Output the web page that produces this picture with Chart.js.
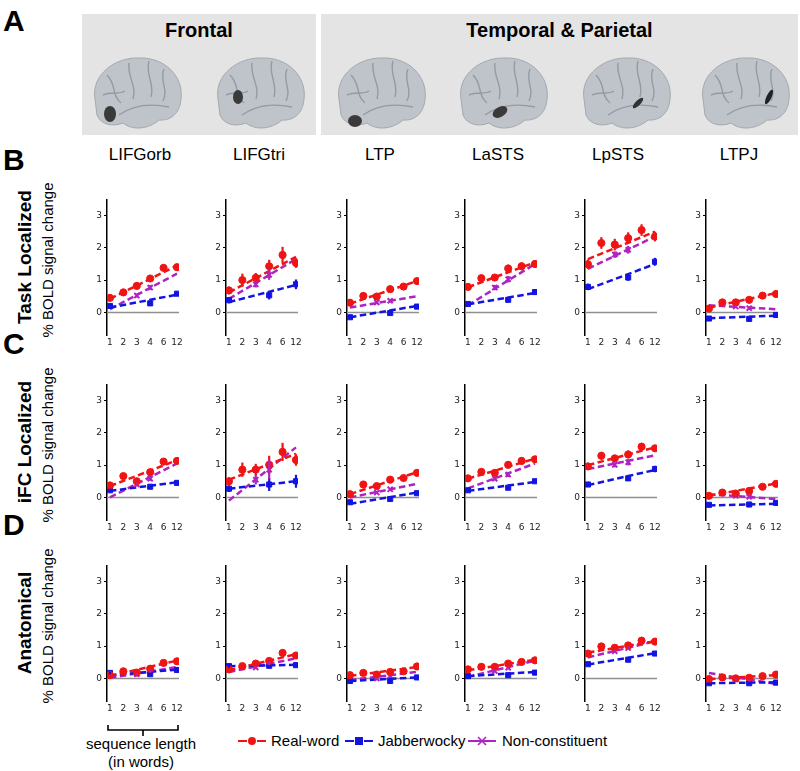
<!DOCTYPE html>
<html lang="en">
<head>
<meta charset="UTF-8">
<title>Sequence length effects by region</title>
<script src="https://cdn.jsdelivr.net/npm/chart.js@4.4.1/dist/chart.umd.min.js"></script>
<style>
    body { margin: 0; background: #fff; font-family: "Liberation Sans", Arial, sans-serif; }
    #fig { position: relative; width: 800px; height: 771px; overflow: hidden; }
    .abs { position: absolute; }
    .letter { font-weight: bold; font-size: 30px; line-height: 30px; }
    .box { background: #e4e4e4; }
    .boxTitle { font-weight: bold; font-size: 20px; text-align: center; }
    .region { font-size: 17px; text-align: center; width: 100px; }
    .rot { transform: rotate(-90deg); text-align: center; white-space: nowrap; }
    .lgItem { display: flex; align-items: center; font-size: 15px; white-space: nowrap; }
    canvas { position: absolute; }
</style>
</head>
<body>
<div id="fig">
    <div class="abs letter" style="left:3px;top:6px;">A</div>
    <div class="abs box" style="left:82px;top:14px;width:234px;height:121px;"></div>
    <div class="abs box" style="left:321px;top:14px;width:477px;height:121px;"></div>
    <div class="abs boxTitle" style="left:82px;top:19px;width:234px;">Frontal</div>
    <div class="abs boxTitle" style="left:321px;top:19px;width:477px;">Temporal &amp; Parietal</div>
</div>

<script>
    // sequence lengths (x categories) and regions
    const lengths = ['1', '2', '3', '4', '6', '12'];
    const regions = ['LIFGorb', 'LIFGtri', 'LTP', 'LaSTS', 'LpSTS', 'LTPJ'];
    const jabIdx = [0, 3, 5];   // jabberwocky conditions: 1, 4, 12
    const noncIdx = [2, 3];     // non-constituent conditions: 3, 4

    // B: Task localized
    const taskReal = [
        [0.45, 0.62, 0.82, 1.05, 1.38, 1.40],
        [0.68, 1.00, 1.07, 1.43, 1.78, 1.53],
        [0.30, 0.51, 0.49, 0.72, 0.80, 0.97],
        [0.79, 1.06, 1.08, 1.36, 1.43, 1.50],
        [1.49, 2.15, 2.10, 2.30, 2.55, 2.35],
        [0.12, 0.31, 0.31, 0.39, 0.52, 0.57]];
    const taskRealErr = [
        [0.08, 0.10, 0.10, 0.10, 0.10, 0.08],
        [0.12, 0.20, 0.15, 0.20, 0.25, 0.15],
        [0.06, 0.06, 0.06, 0.08, 0.08, 0.07],
        [0.08, 0.10, 0.08, 0.12, 0.12, 0.10],
        [0.15, 0.18, 0.18, 0.18, 0.18, 0.15],
        [0.05, 0.05, 0.06, 0.05, 0.06, 0.06]];
    const taskRealFit = [[0.42, 1.45], [0.62, 1.72], [0.27, 0.97], [0.78, 1.55], [1.65, 2.50], [0.15, 0.60]];
    const taskJab = [[0.20, 0.28, 0.58], [0.38, 0.53, 0.87], [-0.15, -0.02, 0.18], [0.26, 0.39, 0.63], [0.79, 1.08, 1.57], [-0.19, -0.20, -0.08]];
    const taskJabErr = [[0.06, 0.07, 0.07], [0.10, 0.13, 0.15], [0.05, 0.05, 0.05], [0.06, 0.06, 0.07], [0.10, 0.10, 0.12], [0.04, 0.05, 0.04]];
    const taskJabFit = [[0.15, 0.55], [0.32, 0.85], [-0.15, 0.20], [0.25, 0.60], [0.72, 1.50], [-0.18, -0.10]];
    const taskNonc = [[0.52, 0.77], [0.87, 1.16], [0.31, 0.36], [0.77, 1.03], [1.79, 1.94], [0.18, 0.13]];
    const taskNoncErr = [[0.06, 0.08], [0.10, 0.15], [0.05, 0.05], [0.08, 0.10], [0.10, 0.12], [0.04, 0.05]];
    const taskNoncFit = [[0.10, 1.20], [0.42, 1.65], [0.15, 0.50], [0.22, 1.50], [1.35, 2.35], [0.22, 0.10]];

    // C: iFC localized
    const ifcReal = [
        [0.37, 0.66, 0.50, 0.78, 1.11, 1.13],
        [0.50, 0.86, 0.86, 1.01, 1.41, 1.16],
        [0.10, 0.40, 0.35, 0.55, 0.60, 0.76],
        [0.59, 0.79, 0.76, 1.01, 1.13, 1.18],
        [0.96, 1.29, 1.21, 1.33, 1.57, 1.52],
        [0.05, 0.15, 0.12, 0.20, 0.33, 0.42]];
    const ifcRealErr = [
        [0.06, 0.08, 0.08, 0.08, 0.07, 0.07],
        [0.12, 0.22, 0.18, 0.28, 0.28, 0.18],
        [0.05, 0.06, 0.06, 0.06, 0.05, 0.05],
        [0.06, 0.08, 0.08, 0.10, 0.10, 0.10],
        [0.08, 0.12, 0.10, 0.12, 0.12, 0.10],
        [0.04, 0.05, 0.05, 0.05, 0.05, 0.05]];
    const ifcRealFit = [[0.35, 1.15], [0.55, 1.35], [0.10, 0.78], [0.58, 1.20], [1.00, 1.55], [0.05, 0.43]];
    const ifcJab = [[0.22, 0.33, 0.45], [0.27, 0.40, 0.50], [-0.15, -0.05, 0.13], [0.22, 0.30, 0.50], [0.40, 0.59, 0.88], [-0.23, -0.22, -0.17]];
    const ifcJabErr = [[0.05, 0.05, 0.06], [0.10, 0.20, 0.20], [0.04, 0.04, 0.05], [0.05, 0.05, 0.07], [0.08, 0.07, 0.10], [0.04, 0.04, 0.04]];
    const ifcJabFit = [[0.20, 0.47], [0.27, 0.50], [-0.20, 0.15], [0.20, 0.48], [0.38, 0.85], [-0.25, -0.20]];
    const ifcNonc = [[0.40, 0.58], [0.55, 0.86], [0.15, 0.25], [0.58, 0.71], [1.01, 1.09], [0.05, 0.02]];
    const ifcNoncErr = [[0.06, 0.07], [0.15, 0.30], [0.04, 0.04], [0.06, 0.08], [0.08, 0.10], [0.03, 0.04]];
    const ifcNoncFit = [[0.00, 1.05], [-0.10, 1.55], [0.00, 0.42], [0.28, 1.05], [0.88, 1.30], [0.10, -0.05]];

    // D: Anatomical
    const anatReal = [
        [0.10, 0.22, 0.18, 0.30, 0.48, 0.53],
        [0.28, 0.38, 0.46, 0.54, 0.79, 0.71],
        [0.10, 0.17, 0.12, 0.20, 0.22, 0.37],
        [0.28, 0.36, 0.36, 0.46, 0.51, 0.56],
        [0.77, 0.99, 0.95, 1.02, 1.17, 1.14],
        [-0.02, 0.03, 0.00, 0.02, 0.07, 0.12]];
    const anatRealErr = [
        [0.04, 0.05, 0.05, 0.05, 0.05, 0.05],
        [0.05, 0.06, 0.06, 0.06, 0.08, 0.06],
        [0.04, 0.04, 0.04, 0.04, 0.04, 0.05],
        [0.04, 0.05, 0.05, 0.05, 0.05, 0.05],
        [0.06, 0.07, 0.07, 0.07, 0.07, 0.06],
        [0.04, 0.04, 0.04, 0.04, 0.04, 0.04]];
    const anatRealFit = [[0.08, 0.55], [0.25, 0.75], [0.08, 0.35], [0.25, 0.58], [0.80, 1.15], [-0.02, 0.10]];
    const anatJab = [[0.17, 0.13, 0.26], [0.38, 0.39, 0.41], [-0.08, -0.08, 0.03], [0.07, 0.10, 0.18], [0.44, 0.58, 0.77], [-0.15, -0.15, -0.13]];
    const anatJabErr = [[0.04, 0.04, 0.04], [0.05, 0.05, 0.05], [0.03, 0.03, 0.03], [0.03, 0.03, 0.04], [0.05, 0.05, 0.05], [0.03, 0.03, 0.03]];
    const anatJabFit = [[0.10, 0.27], [0.38, 0.42], [-0.08, 0.03], [0.07, 0.20], [0.43, 0.78], [-0.15, -0.12]];
    const anatNonc = [[0.13, 0.23], [0.34, 0.46], [0.00, 0.07], [0.23, 0.33], [0.84, 0.94], [-0.03, -0.05]];
    const anatNoncErr = [[0.04, 0.04], [0.04, 0.05], [0.03, 0.03], [0.04, 0.04], [0.05, 0.05], [0.03, 0.03]];
    const anatNoncFit = [[0.02, 0.35], [0.20, 0.62], [-0.05, 0.20], [0.05, 0.55], [0.65, 1.15], [0.17, -0.17]];

    const RED = 'rgb(240,20,20)', BLUE = 'rgb(20,20,225)', PURPLE = 'rgb(175,35,195)';

    const fig = document.getElementById('fig');
    const spines = [107, 226, 347, 465, 585, 706];
    const rows = [
        { letter: 'B', label: 'Task Localized', zero: 312, real: taskReal, realErr: taskRealErr, realFit: taskRealFit,
          jab: taskJab, jabErr: taskJabErr, jabFit: taskJabFit, nonc: taskNonc, noncErr: taskNoncErr, noncFit: taskNoncFit },
        { letter: 'C', label: 'iFC Localized', zero: 497, real: ifcReal, realErr: ifcRealErr, realFit: ifcRealFit,
          jab: ifcJab, jabErr: ifcJabErr, jabFit: ifcJabFit, nonc: ifcNonc, noncErr: ifcNoncErr, noncFit: ifcNoncFit },
        { letter: 'D', label: 'Anatomical', zero: 678, real: anatReal, realErr: anatRealErr, realFit: anatRealFit,
          jab: anatJab, jabErr: anatJabErr, jabFit: anatJabFit, nonc: anatNonc, noncErr: anatNoncErr, noncFit: anatNoncFit }
    ];

    function addDiv(html, cls, style) {
        const d = document.createElement('div');
        d.className = 'abs ' + cls;
        d.style.cssText = style;
        d.innerHTML = html;
        fig.appendChild(d);
        return d;
    }

    // brain pictures (decoration only)
    const brainX = [89, 212, 333, 455, 578, 697];
    const spots = [
        '<ellipse cx="21" cy="59" rx="6" ry="8" fill="#3a3a3a"/>',
        '<ellipse cx="26" cy="42" rx="5" ry="7" fill="#3a3a3a"/>',
        '<ellipse cx="22" cy="66" rx="7" ry="6" fill="#3a3a3a"/>',
        '<ellipse cx="45" cy="57" rx="8" ry="5" fill="#3a3a3a" transform="rotate(-30 45 57)"/>',
        '<ellipse cx="60" cy="48" rx="7" ry="2.5" fill="#333" transform="rotate(-45 60 48)"/>',
        '<ellipse cx="72" cy="42" rx="8" ry="2.5" fill="#222" transform="rotate(-65 72 42)"/>'
    ];
    brainX.forEach((bx, i) => {
        addDiv('<svg width="95" height="76" viewBox="0 0 95 76">' +
            '<path d="M6,44 C2,20 26,2 50,3 C76,2 95,22 92,44 C91,58 82,66 70,65 C60,74 44,76 34,68 C24,72 12,70 8,60 Z" fill="#bfc4ca" stroke="#a4a9af"/>' +
            '<path d="M18,20 C28,30 22,40 32,48 M40,8 C38,22 48,30 44,44 M60,6 C56,20 66,28 62,42 M75,14 C70,26 80,34 74,46 M30,60 C44,50 60,48 80,52 M14,40 C22,36 30,40 36,36" fill="none" stroke="#959ba2" stroke-width="1.4"/>' +
            spots[i] + '</svg>', '', `left:${bx}px;top:55px;`);
    });

    // region names
    regions.forEach((r, i) => addDiv(r, 'region', `left:${spines[i] + 33 - 50}px;top:145px;`));

    // error bars, zero line
    const panelPlugin = {
        id: 'panelExtras',
        beforeDatasetsDraw(chart) {
            const { ctx, chartArea, scales } = chart;
            const y0 = scales.y.getPixelForValue(0);
            ctx.save();
            ctx.strokeStyle = '#909090';
            ctx.lineWidth = 1.5;
            ctx.beginPath();
            ctx.moveTo(chartArea.left, y0);
            ctx.lineTo(chartArea.right, y0);
            ctx.stroke();
            ctx.restore();
        },
        afterDatasetsDraw(chart) {
            const { ctx, scales } = chart;
            chart.data.datasets.forEach((ds, i) => {
                if (!ds.errors) return;
                const meta = chart.getDatasetMeta(i);
                ctx.save();
                ctx.strokeStyle = ds.borderColor;
                ctx.lineWidth = 2.2;
                ds.data.forEach((p, j) => {
                    const x = meta.data[j].x;
                    ctx.beginPath();
                    ctx.moveTo(x, scales.y.getPixelForValue(p.y - ds.errors[j]));
                    ctx.lineTo(x, scales.y.getPixelForValue(p.y + ds.errors[j]));
                    ctx.stroke();
                });
                ctx.restore();
            });
        }
    };

    const AXIS_W = 22, PAD_TOP = 4, AREA_H = 139, X_AXIS_H = 20;

    function fitLine(vals, color) {
        return { data: [{ x: 0, y: vals[0] }, { x: 5, y: vals[1] }], borderColor: color, borderWidth: 2.5,
                 borderDash: [6.5, 3.5], pointRadius: 0, showLine: true, order: 2 };
    }
    function markers(idx, vals, errs, color, style, r) {
        return { data: idx.map((k, j) => ({ x: k, y: vals[j] })), errors: errs, borderColor: color, backgroundColor: color,
                 pointStyle: style, pointRadius: r, borderWidth: style === 'crossRot' ? 2 : 1, showLine: false, order: 1 };
    }

    rows.forEach(row => {
        const top = row.zero - AREA_H * 3.5 / 4.2;
        addDiv(row.letter, 'letter', `left:3px;top:${row.letter === 'B' ? 145 : row.zero - 168}px;`);
        addDiv(row.label, 'rot', `left:${25 - 80}px;top:${row.zero - 55 - 11}px;width:160px;font-weight:bold;font-size:19px;line-height:22px;`);
        addDiv('% BOLD signal change', 'rot', `left:${48 - 80}px;top:${row.zero - 52 - 9}px;width:160px;font-size:15px;line-height:18px;`);

        regions.forEach((r, i) => {
            const cv = document.createElement('canvas');
            const w = AXIS_W + 72 + 6, h = PAD_TOP + AREA_H + X_AXIS_H;
            cv.width = w; cv.height = h;
            cv.style.left = (spines[i] - AXIS_W) + 'px';
            cv.style.top = (top - PAD_TOP) + 'px';
            cv.style.width = w + 'px'; cv.style.height = h + 'px';
            fig.appendChild(cv);

            new Chart(cv, {
                type: 'line',
                data: {
                    datasets: [
                        markers([0, 1, 2, 3, 4, 5], row.real[i], row.realErr[i], RED, 'circle', 3.6),
                        markers(jabIdx, row.jab[i], row.jabErr[i], BLUE, 'rect', 3.6),
                        markers(noncIdx, row.nonc[i], row.noncErr[i], PURPLE, 'crossRot', 3.6),
                        fitLine(row.realFit[i], RED),
                        fitLine(row.jabFit[i], BLUE),
                        fitLine(row.noncFit[i], PURPLE)
                    ]
                },
                options: {
                    responsive: false,
                    animation: false,
                    layout: { padding: { top: PAD_TOP, right: 6, left: 0, bottom: 0 } },
                    plugins: { legend: { display: false }, tooltip: { enabled: false } },
                    scales: {
                        x: {
                            type: 'linear', min: -0.22, max: 5.15,
                            afterBuildTicks: s => { s.ticks = lengths.map((_, k) => ({ value: k })); },
                            afterFit: s => { s.height = X_AXIS_H; },
                            ticks: { callback: v => lengths[v], autoSkip: false, maxRotation: 0, padding: 2,
                                     color: '#222', font: { family: 'DejaVu Sans', size: 9 } },
                            grid: { display: false, drawTicks: false, tickLength: 0 },
                            border: { display: false }
                        },
                        y: {
                            min: -0.7, max: 3.5,
                            afterBuildTicks: s => { s.ticks = [0, 1, 2, 3].map(v => ({ value: v })); },
                            afterFit: s => { s.width = AXIS_W; },
                            ticks: { padding: 2, color: '#222', font: { family: 'DejaVu Sans', size: 9 } },
                            grid: { drawOnChartArea: false, tickLength: 3, color: '#000' },
                            border: { color: '#000', width: 1.5 }
                        }
                    }
                },
                plugins: [panelPlugin]
            });
        });
    });

    // bracket + x label under the first panel
    addDiv('<svg width="74" height="12"><path d="M1,1 V6 H71 V1 M36,6 V12" fill="none" stroke="#000" stroke-width="1.6"/></svg>', '', 'left:107px;top:722px;');
    addDiv('sequence length<br>(in words)', '', 'left:71px;top:735px;width:140px;text-align:center;font-size:15px;line-height:18px;');

    // legend
    const mk = {
        real: '<svg width="28" height="10"><path d="M0,5 H9 M19,5 H28" stroke="' + RED + '" stroke-width="2"/><circle cx="14" cy="5" r="4" fill="' + RED + '"/></svg>',
        jab: '<svg width="28" height="10"><path d="M0,5 H9 M19,5 H28" stroke="' + BLUE + '" stroke-width="2"/><rect x="10" y="1" width="8" height="8" fill="' + BLUE + '"/></svg>',
        nonc: '<svg width="28" height="10"><path d="M0,5 H28" stroke="' + PURPLE + '" stroke-width="2"/><path d="M10,1 L18,9 M18,1 L10,9" stroke="' + PURPLE + '" stroke-width="1.6"/></svg>'
    };
    addDiv(mk.real + '<span style="margin-left:5px">Real-word</span>', 'lgItem', 'left:238px;top:732px;');
    addDiv(mk.jab + '<span style="margin-left:5px">Jabberwocky</span>', 'lgItem', 'left:345px;top:732px;');
    addDiv(mk.nonc + '<span style="margin-left:6px">Non-constituent</span>', 'lgItem', 'left:468px;top:732px;');
</script>
</body>
</html>
